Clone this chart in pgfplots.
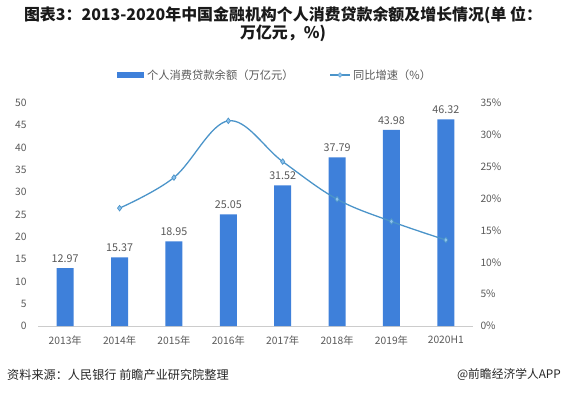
\documentclass[border=0pt]{standalone}
\usepackage{fontspec}
\setmainfont{Noto Sans CJK SC}
\usepackage{pgfplots}
\pgfplotsset{compat=1.18}
\usetikzlibrary{shapes.geometric}
\definecolor{barblue}{HTML}{3E80DA}
\definecolor{lineblue}{HTML}{4B94C9}
\definecolor{mkblue}{HTML}{8EC3EE}
\definecolor{txt}{HTML}{595959}
\begin{document}
\begin{tikzpicture}[x=1bp,y=1bp]
\path[use as bounding box] (0,0) rectangle (563,396);
\node[font=\bfseries\fontsize{16}{18}\selectfont, align=center, text=black!90] at (283,372) {图表3：2013-2020年中国金融机构个人消费贷款余额及增长情况(单 位：\\万亿元，\%)};
% legend
\fill[barblue] (117,318) rectangle (144,324);
\node[anchor=west, font=\fontsize{11.3}{13}\selectfont, text=txt, inner sep=0pt] at (147,321) {个人消费贷款余额（万亿元）};
\draw[lineblue, line width=1.2pt] (330,321) -- (350,321);
\node[diamond, fill=mkblue, draw=lineblue, inner sep=1.2pt] at (340,321) {};
\node[anchor=west, font=\fontsize{11.3}{13}\selectfont, text=txt, inner sep=0pt] at (353,321) {同比增速（\%）};
\begin{axis}[
  at={(38bp,70bp)}, anchor=south west,
  scale only axis, width=435bp, height=223bp,
  xmin=-0.5, xmax=7.5, ymin=0, ymax=50,
  xtick={0,...,7},
  xticklabels={2013年,2014年,2015年,2016年,2017年,2018年,2019年,2020H1},
  ytick={0,5,...,50},
  axis y line*=left, axis x line*=bottom,
  x axis line style={draw=black!20},
  y axis line style={draw=none},
  major tick length=0pt,
  ticklabel style={font=\fontsize{10.3}{11}\selectfont, text=txt},
  yticklabel style={xshift=-8bp},
  xticklabel style={yshift=-6bp},
  /pgf/number format/assume math mode=true,
  nodes near coords,
  nodes near coords style={font=\fontsize{10.8}{12}\selectfont, text=txt, yshift=2bp, /pgf/number format/fixed, /pgf/number format/precision=2, /pgf/number format/fixed zerofill},
  clip=false,
]
\addplot[ybar, bar width=17bp, fill=barblue, draw=none] coordinates {
(0,12.97) (1,15.37) (2,18.95) (3,25.05) (4,31.52) (5,37.79) (6,43.98) (7,46.32)};
\end{axis}
\begin{axis}[
  at={(38bp,70bp)}, anchor=south west,
  scale only axis, width=435bp, height=223bp,
  xmin=-0.5, xmax=7.5, ymin=0, ymax=35,
  ytick={0,5,...,35},
  yticklabel={\pgfmathprintnumber{\tick}\%},
  axis y line*=right, axis x line=none,
  y axis line style={draw=none},
  major tick length=0pt,
  ticklabel style={font=\fontsize{10.3}{11}\selectfont, text=txt},
  yticklabel style={xshift=4bp},
  /pgf/number format/assume math mode=true,
  clip=false,
]
\addplot[lineblue, line width=1.3pt, smooth, tension=0.6, mark=diamond*, mark size=2.8pt, mark options={fill=mkblue, draw=lineblue, line width=0.7pt}] coordinates {
(1,18.5) (2,23.3) (3,32.2) (4,25.8) (5,19.9) (6,16.4) (7,13.5)};
\end{axis}
\node[anchor=west, font=\fontsize{12.2}{14}\selectfont, text=black!85, inner sep=0pt] at (7,21) {资料来源：人民银行 前瞻产业研究院整理};
\node[anchor=east, font=\fontsize{11.8}{14}\selectfont, text=black!85, inner sep=0pt] at (561,21) {@前瞻经济学人APP};
\end{tikzpicture}
\end{document}
